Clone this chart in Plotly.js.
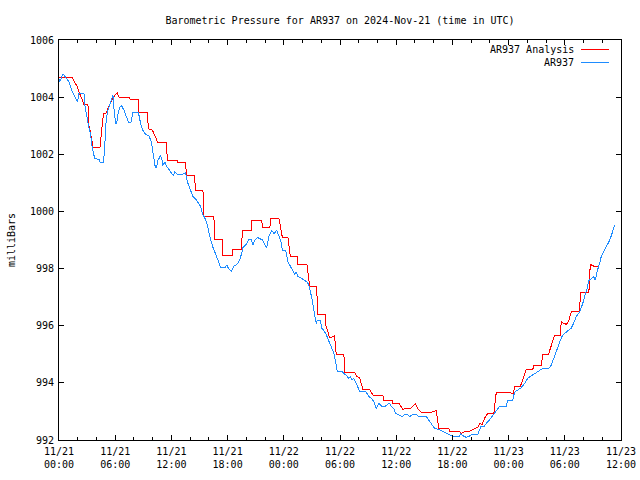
<!DOCTYPE html>
<html>
<head>
<meta charset="utf-8">
<script src="https://cdn.plot.ly/plotly-3.0.1.min.js"></script>
<style>
  html, body { margin: 0; padding: 0; background: #fff; }
  #chart { width: 640px; height: 480px; }
  .js-plotly-plot .scatterlayer path.js-line { shape-rendering: crispEdges; }
</style>
</head>
<body>
<div id="chart"></div>
<script>
// Hours after 2024-11-21 00:00 UTC
const analysisHours = [0,1.36,1.96,2.13,2.50,2.67,3.09,3.20,3.38,3.49,3.63,4.38,4.53,4.63,4.74,4.98,5.70,6.05,6.23,6.40,7.47,7.65,8.47,8.54,9.43,9.54,9.97,10.32,10.50,11.46,11.57,12.64,12.70,13.52,13.60,14.48,14.56,15.37,15.44,16.54,16.62,17.44,17.50,18.51,18.57,19.50,19.57,20.53,20.60,21.63,21.74,22.52,22.59,23.48,23.84,24.44,24.70,25.42,25.48,26.47,26.76,27.50,27.64,28.43,28.46,28.71,28.89,29.24,29.42,29.60,30.42,30.49,31.56,31.80,32.09,32.44,33.16,33.51,34.58,34.65,35.58,35.65,36.29,36.71,37.00,37.50,38.04,38.31,38.68,39.64,40.10,40.28,40.55,41.62,41.70,42.58,42.76,42.95,43.30,43.83,44.18,44.72,44.90,45.18,45.43,45.78,46.42,46.68,48.03,48.53,48.63,49.24,49.52,49.88,50.59,50.69,51.48,51.65,52.26,52.55,52.90,53.51,53.62,53.79,54.15,54.40,54.69,55.57,55.68,56.57,56.72,56.99,57.17,57.63];
const analysisValues = [1004.70,1004.70,1004.36,1004.18,1003.89,1003.74,1003.74,1003.01,1002.72,1002.43,1002.25,1002.25,1002.84,1003.13,1003.42,1003.42,1003.95,1004.10,1004.14,1004.00,1004.00,1003.91,1003.91,1003.48,1003.48,1002.90,1002.84,1002.60,1002.43,1002.43,1001.80,1001.80,1001.72,1001.72,1001.25,1001.25,1000.75,1000.75,999.82,999.82,999.03,999.03,998.47,998.47,998.68,998.68,999.35,999.35,999.70,999.70,999.44,999.44,999.76,999.76,999.10,999.10,998.42,998.42,998.16,998.16,997.36,997.36,996.41,996.41,996.03,995.79,995.58,995.62,995.65,995.00,995.00,994.37,994.37,994.22,994.18,993.78,993.78,993.57,993.57,993.40,993.40,993.28,993.28,993.07,993.10,993.10,993.28,993.10,992.96,992.96,993.03,993.03,992.41,992.41,992.29,992.29,992.30,992.23,992.29,992.30,992.37,992.45,992.58,992.55,992.76,992.93,992.93,993.66,993.66,993.63,993.87,993.87,994.10,994.48,994.48,994.60,994.60,995.00,995.00,995.30,995.65,995.65,996.14,996.10,996.05,996.14,996.49,996.49,997.17,997.17,998.15,998.10,998.07,998.07];

const stationHours = [0,0.07,0.43,0.72,1.07,1.43,1.71,1.96,2.13,2.67,2.77,2.92,3.14,3.35,3.56,3.81,4.27,4.38,4.74,4.88,4.98,5.17,5.34,5.59,5.76,5.87,6.05,6.16,6.26,6.48,6.66,6.94,7.19,7.41,7.68,7.90,8.43,8.54,8.72,8.96,9.25,9.61,9.86,10.03,10.25,10.39,10.57,10.85,10.96,11.10,11.31,11.46,11.68,12.00,12.21,12.38,12.64,13.17,13.52,13.70,14.06,14.30,14.66,14.94,15.12,15.30,15.58,15.84,16.01,16.19,16.44,16.72,16.97,17.26,17.72,17.90,18.11,18.40,18.68,19.04,19.29,19.50,19.64,19.93,20.28,20.49,20.70,20.92,21.17,21.53,21.74,21.98,22.17,22.41,22.70,22.95,23.24,23.42,23.66,23.84,24.20,24.44,24.73,24.97,25.15,25.33,25.50,25.87,26.22,26.51,26.68,26.86,27.04,27.21,27.36,27.46,27.57,27.90,28.07,28.28,28.54,28.78,29.00,29.18,29.35,29.53,29.71,30.25,30.38,30.67,30.91,31.10,31.31,31.45,31.66,31.88,32.09,32.73,32.87,33.08,33.34,33.62,33.87,34.15,34.41,34.87,35.11,35.29,35.47,35.72,35.93,36.29,36.65,36.90,37.21,37.43,37.72,38.07,38.42,39.21,39.49,39.74,40.09,40.55,40.98,41.41,41.70,42.05,42.76,42.87,43.19,43.48,43.83,44.12,44.72,44.90,45.08,45.43,45.61,45.96,46.32,46.61,47.03,47.75,47.92,48.45,48.63,48.98,49.34,49.70,50.05,50.42,50.77,51.12,51.48,52.29,52.55,52.90,53.15,53.44,53.68,53.97,54.32,54.68,54.93,55.22,55.57,55.75,55.92,56.11,56.35,56.56,56.82,57.06,57.26,57.44,57.71,57.89,58.14,58.43,58.71,58.97,59.14,59.32];
const stationValues = [1004.65,1004.53,1004.82,1004.70,1004.53,1004.18,1003.97,1003.83,1004.12,1004.12,1003.71,1003.36,1003.01,1002.72,1002.22,1001.85,1001.82,1001.73,1001.73,1002.20,1003.01,1003.48,1003.65,1003.95,1004.06,1003.60,1003.07,1003.07,1003.36,1003.65,1003.71,1003.54,1003.30,1003.13,1003.13,1003.48,1003.48,1003.36,1003.07,1002.84,1002.69,1002.65,1002.43,1002.08,1001.61,1001.52,1001.79,1001.96,1001.85,1001.61,1001.73,1001.60,1001.50,1001.38,1001.25,1001.39,1001.30,1001.30,1001.35,1001.04,1000.75,1000.52,1000.40,1000.28,1000.17,999.93,999.76,999.52,999.23,999.00,998.74,998.47,998.30,998.04,998.02,998.13,998.00,997.92,998.09,998.16,998.30,998.53,998.74,998.82,999.03,999.03,998.83,999.00,999.09,999.03,999.00,998.83,998.71,999.12,999.33,999.23,999.33,999.18,999.00,998.65,998.63,998.24,998.04,997.89,997.81,997.89,997.72,997.66,997.58,997.52,997.42,997.19,996.90,996.55,996.26,996.08,996.20,996.20,995.91,995.83,995.68,995.50,995.29,995.15,995.03,994.74,994.41,994.41,994.33,994.27,994.16,994.22,994.10,994.15,994.04,993.87,993.71,993.71,993.63,993.52,993.46,993.34,993.11,993.28,993.19,993.19,993.26,993.27,993.19,993.11,992.93,992.88,992.82,992.90,992.88,992.82,992.88,992.91,992.82,992.82,992.70,992.58,992.41,992.37,992.29,992.23,992.18,992.12,992.12,992.21,992.14,992.09,992.14,992.21,992.21,992.33,992.49,992.49,992.58,992.70,992.88,992.99,993.17,993.17,993.40,993.40,993.67,993.75,993.83,993.98,994.16,994.25,994.31,994.39,994.48,994.51,994.62,994.92,995.15,995.44,995.62,995.73,995.81,995.91,996.08,996.32,996.47,996.61,996.78,997.02,997.25,997.57,997.66,997.72,997.60,997.89,998.18,998.42,998.59,998.76,998.94,999.15,999.35,999.52];

const seriesNames = ['AR937 Analysis', 'AR937'];
const seriesColors = ['#ff0000', '#1e8cff'];
const titleText = 'Barometric Pressure for AR937 on 2024-Nov-21 (time in UTC)';
const yTitle = 'milliBars';

const startMs = Date.UTC(2024, 10, 21, 0, 0, 0);
function toTime(h) {
  const d = new Date(startMs + Math.round(h * 3600000));
  return d.toISOString().slice(0, 19).replace('T', ' ');
}

const traces = [
  { x: analysisHours.map(toTime), y: analysisValues, type: 'scatter', mode: 'lines',
    name: seriesNames[0], line: { color: seriesColors[0], width: 1 } },
  { x: stationHours.map(toTime), y: stationValues, type: 'scatter', mode: 'lines',
    name: seriesNames[1], line: { color: seriesColors[1], width: 1 } }
];

const font = 'DejaVu Sans Mono, Liberation Mono, monospace';
const W = 640, H = 480, L = 59, R = 19, T = 40, B = 40;
const pw = W - L - R, ph = H - T - B;
const px = v => (v - L) / pw;
const py = v => (H - B - v) / ph;

const legendY = [49.5, 62.5];
const annotations = seriesNames.map((n, i) => ({
  text: n, xref: 'paper', yref: 'paper', x: px(576), y: py(legendY[i]),
  xanchor: 'right', yanchor: 'middle', showarrow: false,
  font: { family: font, size: 10, color: '#000' }
}));
const shapes = seriesNames.map((n, i) => ({
  type: 'line', xref: 'paper', yref: 'paper',
  x0: px(581), x1: px(609), y0: py(legendY[i]), y1: py(legendY[i]),
  line: { color: seriesColors[i], width: 1 }
}));

const layout = {
  width: W, height: H,
  margin: { l: L, r: R, t: T, b: B, pad: 0 },
  paper_bgcolor: '#fff', plot_bgcolor: '#fff',
  font: { family: font, size: 10, color: '#000' },
  showlegend: false,
  title: { text: titleText, x: 0.5, xref: 'paper', xanchor: 'center',
           y: 1 - 20 / H, yref: 'container', yanchor: 'middle',
           font: { family: font, size: 10, color: '#000' } },
  xaxis: {
    type: 'date', range: [toTime(0), toTime(60)],
    tick0: toTime(0), dtick: 6 * 3600000, tickformat: '%m/%d<br>%H:%M',
    ticks: 'inside', ticklen: 5, tickcolor: '#000', tickwidth: 1,
    showline: true, linecolor: '#000', linewidth: 1, mirror: 'ticks',
    showgrid: false, zeroline: false, automargin: false,
    ticklabelstandoff: 2,
    tickfont: { family: font, size: 10, color: '#000' },
    minor: { dtick: 2 * 3600000, ticks: 'inside', ticklen: 3, tickcolor: '#000', showgrid: false }
  },
  yaxis: {
    range: [992, 1006], tick0: 992, dtick: 2,
    ticks: 'inside', ticklen: 5, tickcolor: '#000', tickwidth: 1,
    showline: true, linecolor: '#000', linewidth: 1, mirror: 'ticks',
    showgrid: false, zeroline: false, automargin: false,
    ticklabelstandoff: 2,
    tickfont: { family: font, size: 10, color: '#000' },
    title: { text: yTitle, standoff: 12, font: { family: font, size: 10, color: '#000' } }
  },
  annotations: annotations,
  shapes: shapes
};

Plotly.newPlot('chart', traces, layout, { staticPlot: true, displayModeBar: false });
</script>
</body>
</html>
